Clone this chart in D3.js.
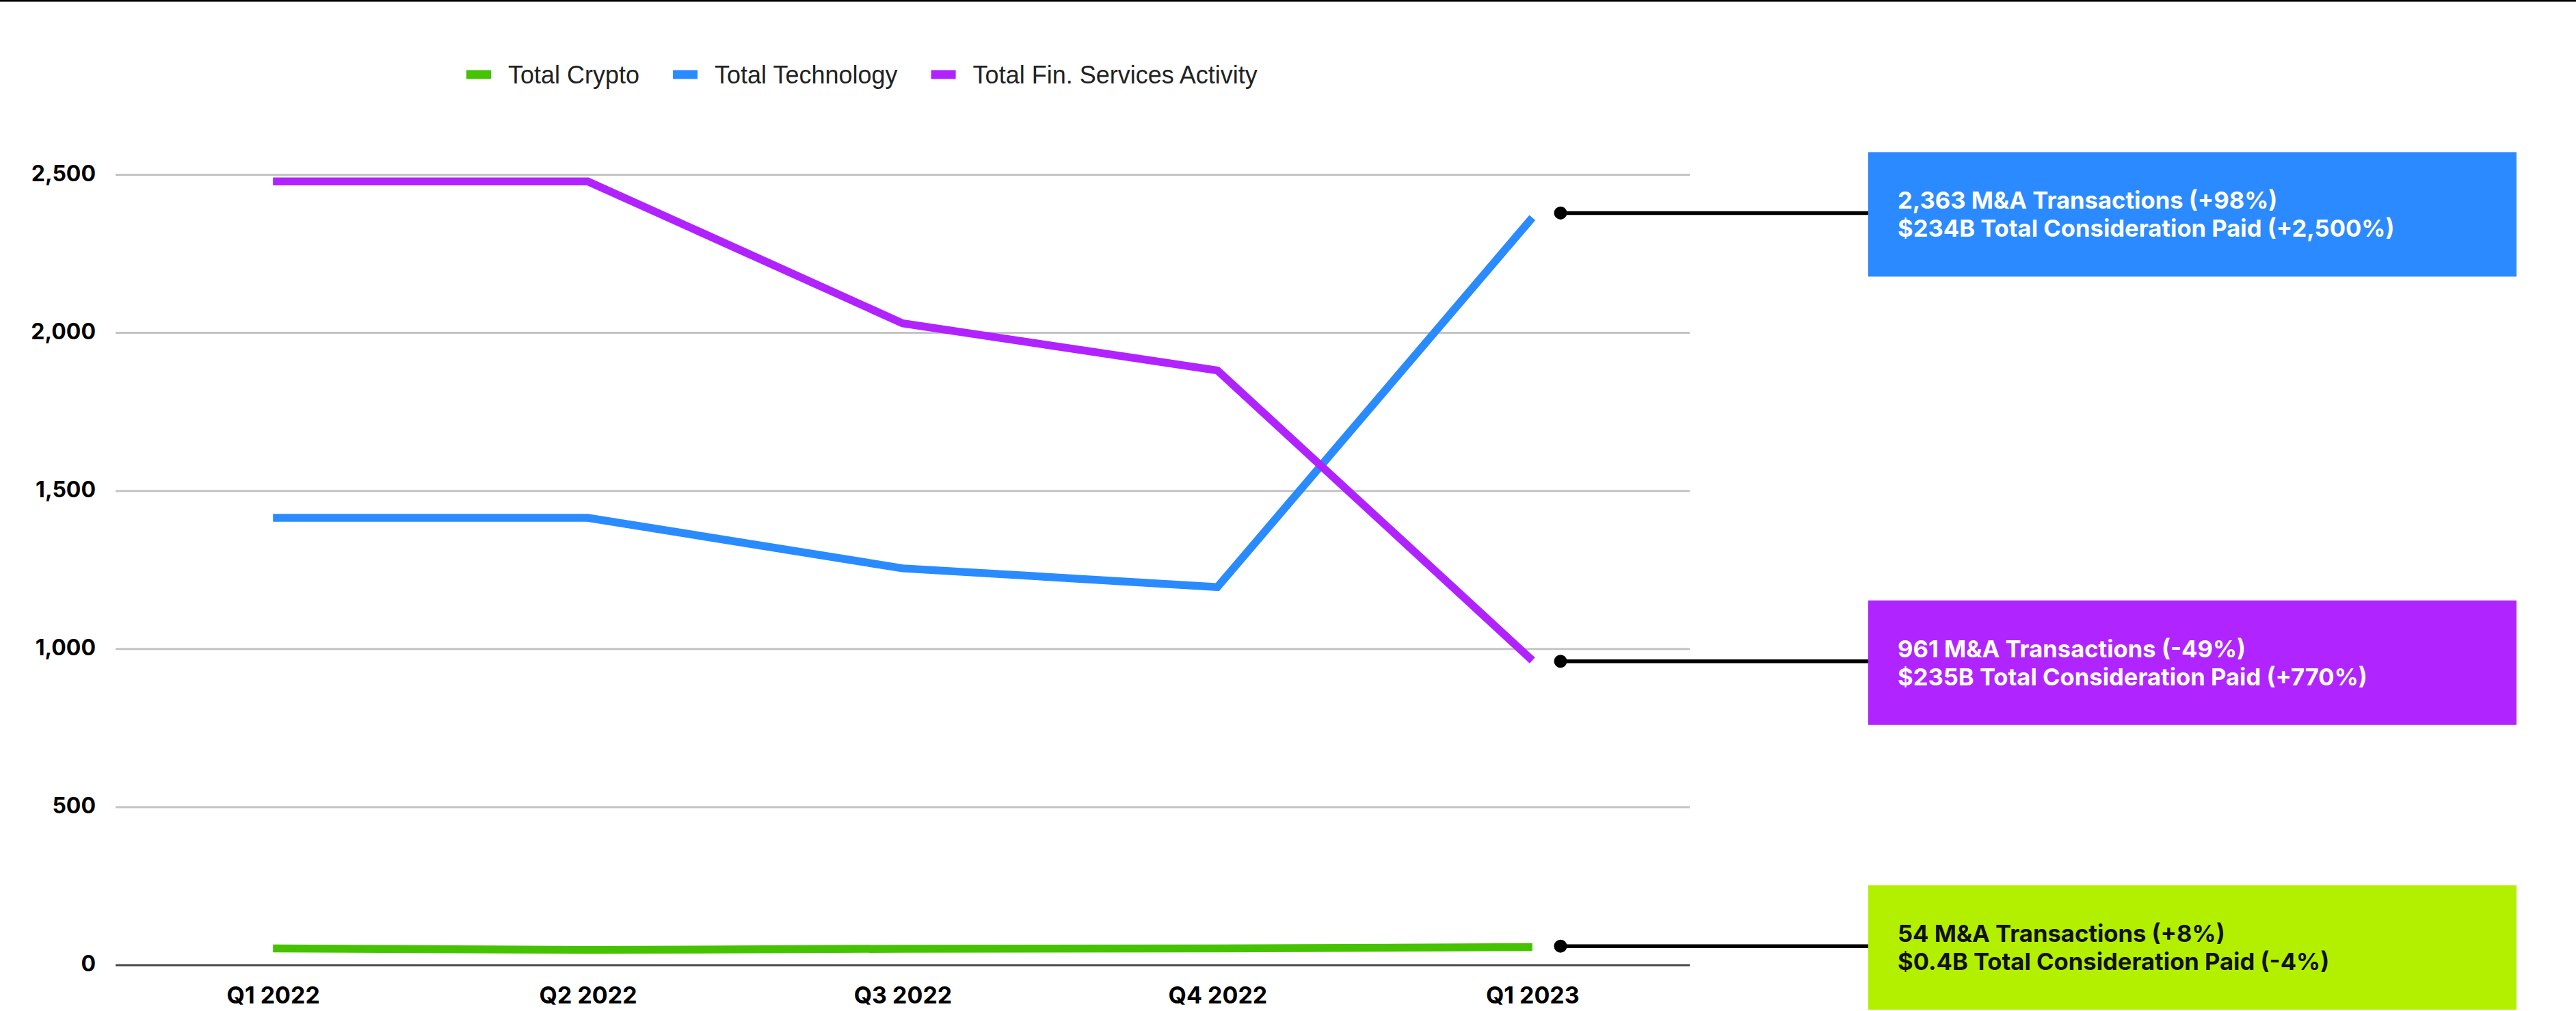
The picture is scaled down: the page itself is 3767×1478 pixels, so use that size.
<!DOCTYPE html>
<html>
<head>
<meta charset="utf-8">
<script src="https://cdn.jsdelivr.net/npm/d3@7"></script>
<style>
  html, body { margin: 0; padding: 0; background: #ffffff; }
  svg { display: block; }
</style>
</head>
<body>
<svg id="chart" width="3767" height="1478"></svg>
<script>
// ---------------- DATA ----------------
const categories = ["Q1 2022", "Q2 2022", "Q3 2022", "Q4 2022", "Q1 2023"];
const cryptoValues = [52, 47, 51, 52, 56];
const technologyValues = [1414, 1414, 1254, 1195, 2363];
const finServicesValues = [2478, 2478, 2029, 1880, 963];

const seriesNames = ["Total Crypto", "Total Technology", "Total Fin. Services Activity"];
const seriesColors = ["#45c300", "#2a8bff", "#b023ff"];

const yTicks = [0, 500, 1000, 1500, 2000, 2500];

// annotations (top to bottom): technology, fin services, crypto
const annotationLine1 = ["2,363 M&A Transactions (+98%)", "961 M&A Transactions (-49%)", "54 M&A Transactions (+8%)"];
const annotationLine2 = ["$234B Total Consideration Paid (+2,500%)", "$235B Total Consideration Paid (+770%)", "$0.4B Total Consideration Paid (-4%)"];
const annotationAnchor = [2378, 960, 59];
const annotationFill = ["#2b8aff", "#b025ff", "#b3f000"];
const annotationTextColor = ["#ffffff", "#ffffff", "#111111"];

// ---------------- LAYOUT ----------------
const W = 3767, H = 1478;
const plotLeft = 169, plotRight = 2471;
const yTop = 255, yBottom = 1410.5;

const svg = d3.select("#chart");

// top border line
svg.append("rect").attr("x", 0).attr("y", 0).attr("width", W).attr("height", 2.5).attr("fill", "#000");

const x = d3.scalePoint().domain(categories).range([plotLeft, plotRight]).padding(0.5);
const y = d3.scaleLinear().domain([0, 2500]).range([yBottom, yTop]);

// y axis with gridlines
const yAxis = d3.axisLeft(y)
  .tickValues(yTicks)
  .tickFormat(d3.format(","))
  .tickSizeInner(-(plotRight - plotLeft))
  .tickSizeOuter(0)
  .tickPadding(29);

const gy = svg.append("g").attr("transform", `translate(${plotLeft},0)`).call(yAxis);
gy.select(".domain").remove();
gy.selectAll(".tick line")
  .attr("stroke", d => d === 0 ? "#474747" : "#c4c4c4")
  .attr("stroke-width", 3);
gy.selectAll(".tick text")
  .attr("fill", "#000")
  .attr("dy", null)
  .attr("y", 9)
  .style("font-family", "Inter, 'Noto Sans', sans-serif")
  .style("font-weight", 700)
  .style("font-size", "32px");

// x axis
const xAxis = d3.axisBottom(x).tickSize(0).tickPadding(0);
const gx = svg.append("g").attr("transform", `translate(0,${yBottom})`).call(xAxis);
gx.select(".domain").remove();
gx.selectAll(".tick text")
  .attr("fill", "#000")
  .attr("dy", null)
  .attr("y", 56)
  .style("font-family", "Inter, 'Noto Sans', sans-serif")
  .style("font-weight", 700)
  .style("font-size", "34px");

// lines
const seriesData = [cryptoValues, technologyValues, finServicesValues];
const line = d3.line().x((d, i) => x(categories[i])).y(d => y(d));

svg.append("g").selectAll("path")
  .data(seriesData)
  .join("path")
  .attr("d", d => line(d))
  .attr("fill", "none")
  .attr("stroke", (d, i) => seriesColors[i])
  .attr("stroke-width", 11.5)
  .attr("stroke-linecap", "butt")
  .attr("stroke-linejoin", "miter");

// legend
const legend = svg.append("g").attr("transform", "translate(682,0)");
let lx = 0;
seriesNames.forEach((name, i) => {
  const g = legend.append("g").attr("transform", `translate(${lx},0)`);
  g.append("rect").attr("x", 0).attr("y", 102.5).attr("width", 36).attr("height", 13)
    .attr("fill", seriesColors[i]);
  const t = g.append("text").attr("x", 61).attr("y", 122)
    .attr("fill", "#222")
    .style("font-family", "'Liberation Sans', Arial, sans-serif")
    .style("font-size", "36px")
    .text(name);
  lx += 61 + t.node().getComputedTextLength() + 49;
});

// annotations
const dotX = 2282, boxX = 2732, boxW = 948, boxH = 182;
const ann = svg.append("g");
annotationLine1.forEach((txt, i) => {
  const cy = y(annotationAnchor[i]);
  ann.append("line").attr("x1", dotX).attr("x2", boxX).attr("y1", cy).attr("y2", cy)
    .attr("stroke", "#000").attr("stroke-width", 5.5);
  ann.append("circle").attr("cx", dotX).attr("cy", cy).attr("r", 9.5).attr("fill", "#000");
  const top = cy - 89;
  ann.append("rect").attr("x", boxX).attr("y", top).attr("width", boxW).attr("height", boxH)
    .attr("fill", annotationFill[i]);
  const tx = ann.append("text")
    .attr("fill", annotationTextColor[i])
    .style("font-family", "Inter, 'Noto Sans', sans-serif")
    .style("font-weight", 700)
    .style("font-size", "34.6px");
  tx.append("tspan").attr("x", boxX + 43).attr("y", top + 83).text(txt);
  tx.append("tspan").attr("x", boxX + 43).attr("y", top + 124).text(annotationLine2[i]);
});
</script>
</body>
</html>
